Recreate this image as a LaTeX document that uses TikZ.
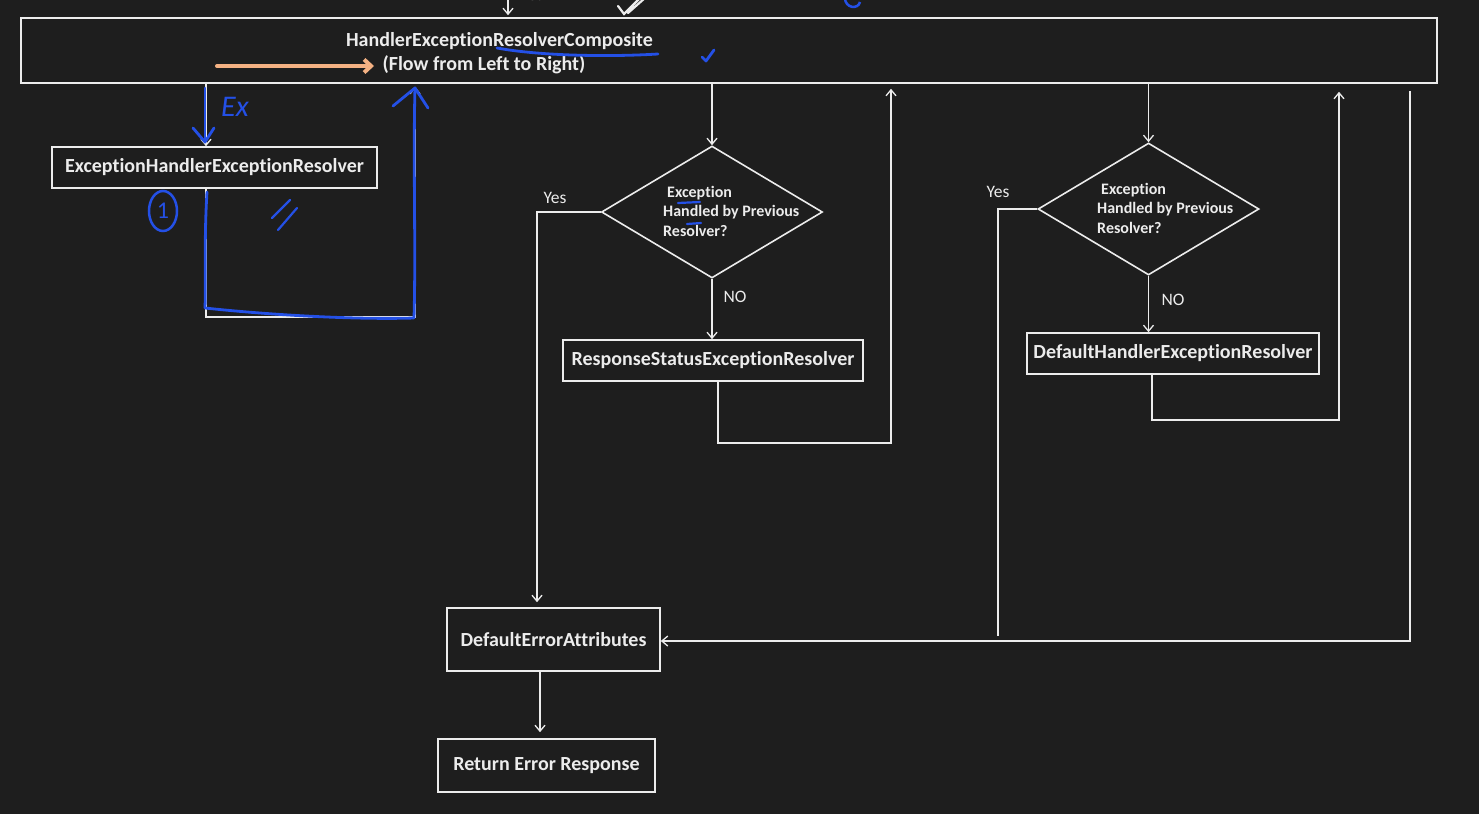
\documentclass[tikz,border=0pt]{standalone}
\usepackage{fontspec}
\setmainfont{Carlito}[RawFeature=-liga]
\usetikzlibrary{arrows.meta,shapes.geometric,calc}
\definecolor{bg}{HTML}{1E1E1E}
\definecolor{ln}{HTML}{ECECEC}
\definecolor{pen}{HTML}{2450E6}
\definecolor{peach}{HTML}{F4B183}
\tikzset{
  box/.style={draw=ln, line width=1.6pt, text=ln, font=\bfseries\fontsize{20}{24}\selectfont, inner sep=0pt},
  dia/.style={draw=ln, line width=1.6pt, diamond, inner sep=0pt},
  dtext/.style={text=ln, font=\bfseries\fontsize{16}{19.5}\selectfont, align=left, anchor=west, inner sep=0pt},
  lab/.style={text=ln, font=\fontsize{17.5}{20}\selectfont, inner sep=0pt},
  arr/.style={draw=ln, line width=1.3pt, -{Straight Barb[length=6pt,width=10pt]}},
  con/.style={draw=ln, line width=1.3pt},
  blue/.style={draw=pen, line width=2.8pt, line cap=round, line join=round},
}
\begin{document}
\begin{tikzpicture}[x=1pt,y=-1pt]
\fill[bg] (0,0) rectangle (1479,814);
\useasboundingbox (0,0) rectangle (1479,814);

% nodes
\node[box, minimum width=1416pt, minimum height=65pt] (top) at (729,50.5) {};
\node[text=ln, font=\bfseries\fontsize{20}{24}\selectfont, inner sep=0pt] (t1) at (499.5,41) {HandlerExceptionResolverComposite};
\node[text=ln, font=\bfseries\fontsize{20}{24}\selectfont, inner sep=0pt] (t2) at (484,65) {(Flow from Left to Right)};

\node[box, minimum width=325pt, minimum height=41pt] (eher) at (214.5,167.5) {ExceptionHandlerExceptionResolver};
\node[dia, minimum width=221pt, minimum height=132pt] (d1) at (712,212) {};
\node[dtext] (d1t) at (663,211) {\hspace*{4pt}Exception\\Handled by Previous\\Resolver?};
\node[box, minimum width=300pt, minimum height=41pt] (rser) at (713,360.5) {ResponseStatusExceptionResolver};
\node[dia, minimum width=221pt, minimum height=132pt] (d2) at (1148.5,209) {};
\node[dtext] (d2t) at (1097,208) {\hspace*{4pt}Exception\\Handled by Previous\\Resolver?};
\node[box, minimum width=292pt, minimum height=41pt] (dher) at (1173,353.5) {DefaultHandlerExceptionResolver};
\node[box, minimum width=213pt, minimum height=63pt] (dea) at (553.5,639.5) {DefaultErrorAttributes};
\node[box, minimum width=217pt, minimum height=53pt] (rer) at (546.5,765.5) {Return Error Response};

\node[lab] (yes1) at (555,198) {Yes};
\node[lab] (no1) at (735,297) {NO};
\node[lab] (yes2) at (998,192) {Yes};
\node[lab] (no2) at (1173,300) {NO};
\node[lab] (yes0) at (532,-5) {Yes};

% connectors
\draw[arr, shorten >=2pt] (508,-10) -- (top.north -| 508,0);
\draw[arr] (top.south -| 206,0) -- (eher.north -| 206,0);
\draw[arr] (eher.south -| 206,0) -- (206,317) -- (415,317) -- ($(top.south -| 415,0)+(0,3)$);
\draw[arr] (top.south -| d1.north) -- (d1.north);
\draw[arr] (d1.south) -- (rser.north -| d1.south);
\draw[arr] (rser.south -| 718,0) -- (718,443) -- (891,443) -- ($(top.south -| 891,0)+(0,5)$);
\draw[arr, shorten >=5pt] (d1.west) -- (537,212) -- (dea.north -| 537,0);
\draw[arr] (top.south -| d2.north) -- (d2.north);
\draw[arr] (d2.south) -- (dher.north -| d2.south);
\draw[arr] (dher.south -| 1152,0) -- (1152,420) -- (1339,420) -- ($(top.south -| 1339,0)+(0,8)$);
\draw[con] (d2.west) -- (998,209) -- (998,636);
\draw[arr] ($(top.south -| 1410,0)+(0,7)$) -- (1410,641) -- (dea.east |- 0,641);
\draw[arr, shorten >=6pt] (dea.south -| 540,0) -- (rer.north -| 540,0);

% hand annotations
\draw[draw=peach, line width=4pt, line cap=round, -{Straight Barb[length=7pt,width=13pt]}] (217,66) -- (374,66);
\draw[blue] (497,48) .. controls (540,56) and (610,57) .. (658,54);
\draw[blue] (702,57) -- (706,61) -- (714,50);
\draw[blue] (205,88) -- (205,142);
\draw[blue] (193,128) -- (205,142) -- (214,128);
\node[text=pen, font=\itshape\fontsize{30}{30}\selectfont, inner sep=0pt] (ex) at (235,107) {Ex};
\node[draw=pen, line width=2.5pt, ellipse, minimum width=28pt, minimum height=40pt, inner sep=0pt, text=pen, font=\fontsize{24}{24}\selectfont] (one) at (163,211) {1};
\draw[blue, line width=2.2pt] (272,218) -- (290,200) (278,230) -- (297,208);
\draw[blue] (207,192) .. controls (204,240) and (206,280) .. (205,308) .. controls (260,314) and (350,320) .. (414,318) .. controls (416,250) and (413,160) .. (415,88);
\draw[blue] (393,106) -- (415,88) -- (428,108);
\draw[blue, line width=2.2pt] (678,203) -- (700,202);
\draw[blue, line width=2.2pt] (687,224) -- (701,223);
\draw[draw=pen, line width=2.5pt] (845,-2) .. controls (845,8) and (858,10) .. (860,2);
\draw[draw=ln, line width=2.2pt, line cap=round] (618,6) -- (624,14) -- (640,-2) (628,13) -- (645,-2);
\end{tikzpicture}
\end{document}
